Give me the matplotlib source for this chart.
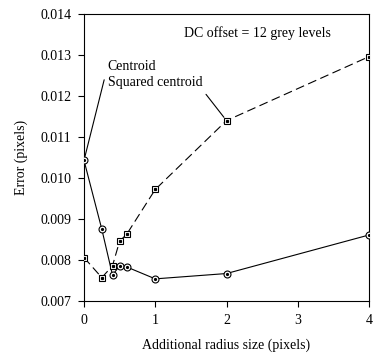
import numpy as np
import matplotlib.pyplot as plt

plt.rcParams['font.family'] = ['Liberation Serif', 'DejaVu Serif']

radius = [0, 0.25, 0.4, 0.5, 0.6, 1, 2, 4]
centroid = [0.01043, 0.00875, 0.00763, 0.00786, 0.00783, 0.00754, 0.00767, 0.00861]
sq_centroid = [0.00806, 0.00757, 0.00786, 0.00846, 0.00863, 0.00972, 0.01140, 0.01296]

fig = plt.figure(figsize=(3.75, 3.56), dpi=100)
ax = fig.add_axes([84 / 375, 1 - 301 / 356, (369 - 84) / 375, (301 - 14) / 356])

# centroid: solid line, circle with dot
ax.plot(radius, centroid, color='black', lw=0.8, marker='o', ms=5,
        mfc='white', mec='black', mew=0.8, zorder=3)
ax.plot(radius, centroid, ls='none', marker='o', ms=1.3, color='black', zorder=4)

# squared centroid: dashed line, square with dot
ax.plot(radius, sq_centroid, color='black', lw=0.8, ls=(0, (8, 4)), marker='s', ms=5,
        mfc='white', mec='black', mew=0.8, zorder=3)
ax.plot(radius, sq_centroid, ls='none', marker='s', ms=1.3, color='black', zorder=4)

ax.set_xlim(0, 4)
ax.set_ylim(0.007, 0.014)
ax.set_xticks([0, 1, 2, 3, 4])
ax.set_yticks(np.arange(0.007, 0.0141, 0.001))
ax.set_yticklabels(['%.3f' % v for v in np.arange(0.007, 0.0141, 0.001)])
ax.tick_params(direction='out', length=4, width=0.8, labelsize=10, color='black', pad=5)
for s in ax.spines.values():
    s.set_linewidth(0.8)

ax.set_xlabel('Additional radius size (pixels)', fontsize=10, labelpad=9)
ax.set_ylabel('Error (pixels)', fontsize=10, labelpad=9)

ax.annotate('Centroid', xy=(radius[0], centroid[0]), xytext=(0.33, 0.01272),
            fontsize=10, va='center', ha='left',
            arrowprops=dict(arrowstyle='-', lw=0.8, color='black', shrinkA=3, shrinkB=3,
                            relpos=(0.0, 0.5)))
ax.annotate('Squared centroid', xy=(radius[6], sq_centroid[6]), xytext=(0.33, 0.01232),
            fontsize=10, va='center', ha='left',
            arrowprops=dict(arrowstyle='-', lw=0.8, color='black', shrinkA=2, shrinkB=3,
                            relpos=(1.0, 0.0)))
ax.text(2.44, 0.01353, 'DC offset = 12 grey levels', fontsize=10, ha='center', va='center')

fig.savefig('out.png', dpi=100)
